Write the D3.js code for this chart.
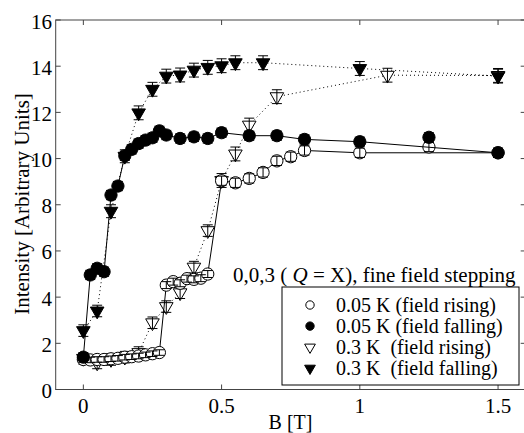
<!DOCTYPE html>
<html>
<head>
<meta charset="utf-8">
<script src="https://cdn.jsdelivr.net/npm/d3@7"></script>
</head>
<body style="margin:0">
<div id="chart"></div>
<script>
// Define SVG area dimensions
var svgWidth = 524;
var svgHeight = 433;

// 0.05 K, field rising (open circles, solid line)
var bRise005 = [0, 0.025, 0.05, 0.075, 0.1, 0.125, 0.15, 0.175, 0.2, 0.225, 0.25, 0.275,
                0.3, 0.325, 0.35, 0.375, 0.4, 0.425, 0.45,
                0.5, 0.55, 0.6, 0.65, 0.7, 0.75, 0.8, 1.0, 1.25, 1.5];
var iRise005 = [1.3, 1.28, 1.3, 1.3, 1.33, 1.35, 1.4, 1.42, 1.45, 1.5, 1.55, 1.6,
                4.52, 4.67, 4.6, 4.8, 4.77, 4.82, 5.0,
                9.04, 8.95, 9.14, 9.4, 9.9, 10.08, 10.35, 10.25, 10.5, 10.25];
var eRise005 = [0.12, 0.12, 0.12, 0.12, 0.12, 0.12, 0.12, 0.12, 0.12, 0.12, 0.12, 0.12,
                0.15, 0.15, 0.15, 0.15, 0.15, 0.15, 0.15,
                0.2, 0.2, 0.2, 0.2, 0.2, 0.2, 0.2, 0.2, 0.2, 0.2];

// 0.05 K, field falling (filled circles, solid line)
var bFall005 = [0, 0.025, 0.05, 0.075, 0.1, 0.125, 0.15, 0.175, 0.2, 0.225, 0.25, 0.275,
                0.3, 0.35, 0.4, 0.45, 0.5, 0.6, 0.7, 0.8, 1.0, 1.25, 1.5];
var iFall005 = [1.4, 4.96, 5.25, 5.1, 8.42, 8.81, 10.12, 10.4, 10.65, 10.8, 10.9, 11.2,
                11.02, 10.87, 10.94, 10.87, 11.12, 10.99, 10.99, 10.83, 10.73, 10.92, 10.25];
var eFall005 = [0.15, 0.2, 0.2, 0.2, 0.2, 0.2, 0.2, 0.2, 0.2, 0.2, 0.2, 0.2,
                0.2, 0.2, 0.2, 0.2, 0.2, 0.2, 0.2, 0.2, 0.2, 0.2, 0.2];

// 0.3 K, field rising (open triangles, dotted line)
var bRise03 = [0, 0.05, 0.1, 0.15, 0.2, 0.25, 0.3, 0.35, 0.4, 0.45, 0.5, 0.55, 0.6, 0.7, 1.1, 1.5];
var iRise03 = [1.35, 1.15, 1.3, 1.4, 1.6, 2.89, 3.59, 4.19, 5.3, 6.88, 9.05, 10.2, 11.45, 12.68, 13.61, 13.6];
var eRise03 = [0.25, 0.25, 0.25, 0.25, 0.25, 0.25, 0.25, 0.25, 0.25, 0.25, 0.3, 0.3, 0.3, 0.3, 0.3, 0.3];

// 0.3 K, field falling (filled triangles, dotted line)
var bFall03 = [0, 0.05, 0.1, 0.15, 0.2, 0.25, 0.3, 0.35, 0.4, 0.45, 0.5, 0.55, 0.65, 1.0, 1.5];
var iFall03 = [2.55, 3.4, 7.72, 10.1, 11.98, 13.0, 13.57, 13.62, 13.83, 13.95, 14.02, 14.15, 14.15, 13.9, 13.57];
var eFall03 = [0.25, 0.25, 0.28, 0.28, 0.3, 0.3, 0.3, 0.3, 0.3, 0.3, 0.3, 0.3, 0.3, 0.3, 0.3];

// points measured apart from the sweeps (not joined by the lines)
var offLine = [1.25];

var xTicks = [0, 0.5, 1, 1.5];
var yTicks = [0, 2, 4, 6, 8, 10, 12, 14, 16];

var legendLabels = ["0.05 K (field rising)", "0.05 K (field falling)",
                    "0.3 K  (field rising)", "0.3 K  (field falling)"];

var serifFace = '"Liberation Serif", "Times New Roman", Tinos, "Nimbus Roman", serif';

var svg = d3.select("#chart")
  .append("svg")
  .attr("width", svgWidth)
  .attr("height", svgHeight)
  .attr("font-family", serifFace)
  .style("font-family", serifFace, "important");

var x = d3.scaleLinear()
  .domain([-0.1, 1.6])
  .range([55.7, 525.7]);

var y = d3.scaleLinear()
  .domain([0, 16])
  .range([389.5, 20]);

// every text goes through here so the serif face sticks
function addText(parent, px, py, size, anchor) {
  return parent.append("text")
    .attr("font-family", serifFace)
    .style("font-family", serifFace, "important")
    .attr("font-size", size)
    .attr("x", px)
    .attr("y", py)
    .attr("text-anchor", anchor);
}

// series table built from the arrays
function makeSeries(b, v, e) {
  return b.map((d, i) => ({ b: d, v: v[i], e: e[i] }));
}
var series = [
  { data: makeSeries(bRise03, iRise03, eRise03), shape: "tri", filled: false, dash: "1,3" },
  { data: makeSeries(bFall03, iFall03, eFall03), shape: "tri", filled: true, dash: "1,3" },
  { data: makeSeries(bRise005, iRise005, eRise005), shape: "circle", filled: false, dash: null },
  { data: makeSeries(bFall005, iFall005, eFall005), shape: "circle", filled: true, dash: null }
];

var circleSym = d3.symbol().type(d3.symbolCircle).size(118);
var triSym = d3.symbol().type(d3.symbolTriangle).size(80);

// frame
svg.append("rect")
  .attr("x", x(-0.1))
  .attr("y", y(16))
  .attr("width", x(1.6) - x(-0.1))
  .attr("height", y(0) - y(16))
  .attr("fill", "none")
  .attr("stroke", "#444")
  .attr("stroke-width", 1);

// inward ticks, all four sides
var tickLen = 5;
xTicks.forEach(t => {
  svg.append("line").attr("x1", x(t)).attr("x2", x(t))
    .attr("y1", y(0)).attr("y2", y(0) - tickLen).attr("stroke", "#444");
  svg.append("line").attr("x1", x(t)).attr("x2", x(t))
    .attr("y1", y(16)).attr("y2", y(16) + tickLen).attr("stroke", "#444");
  addText(svg, x(t), 413, 21, "middle").text(t);
});
yTicks.forEach(t => {
  svg.append("line").attr("x1", x(-0.1)).attr("x2", x(-0.1) + tickLen)
    .attr("y1", y(t)).attr("y2", y(t)).attr("stroke", "#444");
  svg.append("line").attr("x1", x(1.6)).attr("x2", x(1.6) - tickLen)
    .attr("y1", y(t)).attr("y2", y(t)).attr("stroke", "#444");
  addText(svg, 52, y(t) + 8.5, 21, "end").text(t);
});

// axis titles
addText(svg, 290.5, 429, 20, "middle").text("B [T]");

addText(svg, 0, 0, 21, "middle")
  .attr("transform", "translate(29,204) rotate(-90)")
  .text("Intensity [Arbitrary Units]");

var line = d3.line()
  .x(d => x(d.b))
  .y(d => y(d.v));

series.forEach(s => {
  var g = svg.append("g");
  g.append("path")
    .datum(s.data.filter(d => !offLine.includes(d.b)))
    .attr("d", line)
    .attr("fill", "none")
    .attr("stroke", "#000")
    .attr("stroke-width", 1)
    .attr("stroke-dasharray", s.dash);

  var sym = (s.shape === "tri") ? triSym : circleSym;
  var rot = (s.shape === "tri") ? " rotate(180)" : "";

  g.selectAll("path.mk")
    .data(s.data)
    .enter()
    .append("path")
    .classed("mk", true)
    .attr("d", sym)
    .attr("transform", d => `translate(${x(d.b)},${y(d.v)})${rot}`)
    .attr("fill", s.filled ? "#000" : "#fff")
    .attr("stroke", "#000")
    .attr("stroke-width", 1);

  // error bars with caps
  var eb = g.selectAll("g.eb")
    .data(s.data)
    .enter()
    .append("g")
    .classed("eb", true)
    .attr("stroke", "#000")
    .attr("stroke-width", 1);
  eb.append("line")
    .attr("x1", d => x(d.b)).attr("x2", d => x(d.b))
    .attr("y1", d => y(d.v - d.e)).attr("y2", d => y(d.v + d.e));
  eb.append("line")
    .attr("x1", d => x(d.b) - 5).attr("x2", d => x(d.b) + 5)
    .attr("y1", d => y(d.v + d.e)).attr("y2", d => y(d.v + d.e));
  eb.append("line")
    .attr("x1", d => x(d.b) - 5).attr("x2", d => x(d.b) + 5)
    .attr("y1", d => y(d.v - d.e)).attr("y2", d => y(d.v - d.e));
});

// legend title
var title = addText(svg, 233, 282, 21, "start");
title.append("tspan").text("0,0,3 ( ");
title.append("tspan").attr("font-style", "italic").text("Q");
title.append("tspan").text(" = X), fine field stepping");

var legend = svg.append("g");
legend.append("rect")
  .attr("x", 282)
  .attr("y", 287)
  .attr("width", 237)
  .attr("height", 98)
  .attr("fill", "#fff")
  .attr("stroke", "#000")
  .attr("stroke-width", 1);

var legendShapes = [
  { shape: "circle", filled: false },
  { shape: "circle", filled: true },
  { shape: "tri", filled: false },
  { shape: "tri", filled: true }
];
legendLabels.forEach((lab, i) => {
  var cy = 305 + i * 21.1;
  var sh = legendShapes[i];
  legend.append("path")
    .attr("d", sh.shape === "tri"
      ? d3.symbol().type(d3.symbolTriangle).size(50)()
      : d3.symbol().type(d3.symbolCircle).size(55)())
    .attr("transform", `translate(310,${cy})` + (sh.shape === "tri" ? " rotate(180)" : ""))
    .attr("fill", sh.filled ? "#000" : "#fff")
    .attr("stroke", "#000");
  addText(legend, 336, cy + 6.7, 20, "start")
    .attr("xml:space", "preserve")
    .text(lab);
});
</script>
</body>
</html>
